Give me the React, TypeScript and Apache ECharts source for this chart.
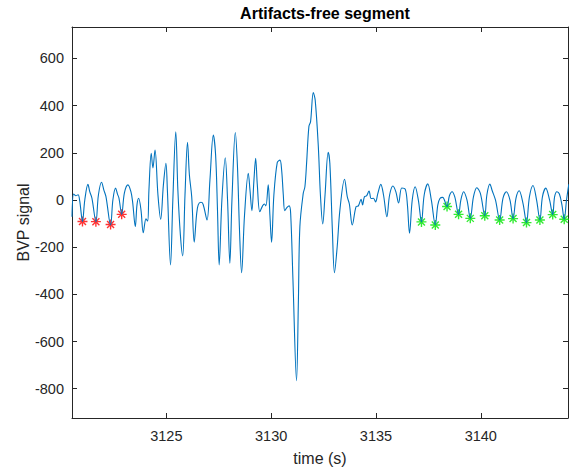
import React, { useEffect, useRef } from "react";
import * as echarts from "echarts";

const timeS = [
  3120.50, 3120.58, 3120.68, 3120.79, 3120.87, 3121.00, 3121.11, 3121.26, 3121.35, 3121.45,
  3121.64, 3121.76, 3121.91, 3122.02, 3122.12, 3122.34, 3122.45, 3122.58, 3122.67, 3122.74,
  3122.87, 3123.00, 3123.17, 3123.31, 3123.39, 3123.52, 3123.60, 3123.68, 3123.79, 3123.90,
  3124.03, 3124.11, 3124.17, 3124.28, 3124.36, 3124.46, 3124.60, 3124.73, 3124.86, 3124.98,
  3125.05, 3125.20, 3125.31, 3125.45, 3125.55, 3125.67, 3125.78, 3125.89, 3126.01, 3126.10,
  3126.21, 3126.33, 3126.44, 3126.52, 3126.65, 3126.75, 3126.94, 3127.08, 3127.24, 3127.35,
  3127.44, 3127.52, 3127.65, 3127.81, 3127.92, 3128.03, 3128.13, 3128.29, 3128.39, 3128.49,
  3128.59, 3128.73, 3128.91, 3128.99, 3129.08, 3129.18, 3129.26, 3129.34, 3129.46, 3129.59,
  3129.68, 3129.75, 3129.86, 3129.94, 3130.02, 3130.13, 3130.29, 3130.42, 3130.50, 3130.58,
  3130.65, 3130.76, 3130.86, 3130.93, 3131.04, 3131.21, 3131.30, 3131.37, 3131.53, 3131.61,
  3131.69, 3131.80, 3131.88, 3132.01, 3132.10, 3132.25, 3132.35, 3132.46, 3132.57, 3132.72,
  3132.80, 3132.92, 3133.02, 3133.15, 3133.28, 3133.50, 3133.63, 3133.73, 3133.87, 3134.05,
  3134.16, 3134.29, 3134.36, 3134.45, 3134.55, 3134.67, 3134.77, 3134.88, 3134.98, 3135.09,
  3135.23, 3135.36, 3135.52, 3135.65, 3135.81, 3135.95, 3136.08, 3136.23, 3136.40, 3136.50,
  3136.60, 3136.73, 3136.87, 3137.02, 3137.17, 3137.30, 3137.47, 3137.64, 3137.83, 3137.95,
  3138.05, 3138.18, 3138.39, 3138.50, 3138.63, 3138.76, 3138.94, 3139.05, 3139.18, 3139.34,
  3139.50, 3139.65, 3139.81, 3139.98, 3140.19, 3140.29, 3140.43, 3140.55, 3140.70, 3140.90,
  3141.06, 3141.22, 3141.39, 3141.54, 3141.68, 3141.83, 3142.01, 3142.18, 3142.32, 3142.49,
  3142.66, 3142.82, 3142.94, 3143.10, 3143.28, 3143.43, 3143.52, 3143.63, 3143.75, 3143.87,
  3143.98, 3144.09, 3144.20,
];

const bvpSignal = [
  -71, 25, 18, 22, -5, -91, 0, 66, 34, 8,
  -92, 21, 75, 42, 14, -106, 0, 50, 25, 8,
  -61, 30, 64, 35, -7, -113, -21, 7, -42, -139,
  -80, -89, 42, 198, 136, 212, 21, -82, 64, 155,
  42, -275, 0, 289, 42, -148, -237, 21, 244, 106,
  14, -179, -64, -21, -10, -17, -85, 85, 275, 191,
  -42, -275, 0, 179, 0, -268, 0, 286, 148, -127,
  -308, -64, 113, 42, -45, 85, 177, 64, -50, -25,
  -17, -25, 64, -64, -179, 21, 158, 169, 127, 21,
  -45, -31, -25, -56, -339, -766, -424, -113, 28, 56,
  155, 311, 332, 455, 424, 226, 21, -102, 21, 202,
  155, -127, -308, -198, -42, 88, 14, -17, -106, -28,
  -25, 3, -21, 14, 17, 38, 6, 7, -8, 28,
  66, 21, -71, 21, 59, 34, -13, 51, 45, -21,
  -141, 0, 56, 0, -93, 21, 68, 0, -106, -21,
  6, 11, -28, 17, 35, 13, -61, 0, 35, 0,
  -78, 13, 52, 28, -67, 21, 67, 38, 0, -85,
  8, 35, 0, -79, 8, 39, -13, -96, 13, 61,
  0, -85, 13, 50, 0, -62, 13, 35, 25, -21,
  -82, 0, 67,
];

const redPeakTimes = [3121.0, 3121.64, 3122.34, 3122.87];
const redPeakValues = [-91, -92, -104, -61];

const greenPeakTimes = [
  3137.17, 3137.83, 3138.39, 3138.94, 3139.5, 3140.19, 3140.9, 3141.54, 3142.18, 3142.82,
  3143.43, 3143.98,
];
const greenPeakValues = [-93, -106, -28, -61, -78, -67, -85, -79, -96, -85, -62, -82];

const xTicks = [3125, 3130, 3135, 3140];
const yTicks = [-800, -600, -400, -200, 0, 200, 400, 600];

const X_MIN = 3120.5;
const X_MAX = 3144.16;
const Y_MIN = -924;
const Y_MAX = 733;

const FONT = "'Liberation Sans', Arial, Helvetica, sans-serif";
const AXIS_COLOR = "#262626";
const STAR = "path://M5,0 L5,10 M0,5 L10,5 M1.5,1.5 L8.5,8.5 M1.5,8.5 L8.5,1.5";

export default function App() {
  const ref = useRef<HTMLDivElement>(null);

  useEffect(() => {
    if (!ref.current) return;
    const chart = echarts.init(ref.current, undefined, { renderer: "svg" });

    const lineData = timeS.map((t, i) => [t, bvpSignal[i]]);
    const redData = redPeakTimes.map((t, i) => [t, redPeakValues[i]]);
    const greenData = greenPeakTimes.map((t, i) => [t, greenPeakValues[i]]);

    const axisCommon = {
      type: "value" as const,
      axisLine: { show: true, onZero: false, lineStyle: { color: AXIS_COLOR, width: 1 } },
      splitLine: { show: false },
    };

    chart.setOption({
      animation: false,
      backgroundColor: "#ffffff",
      title: {
        text: "Artifacts-free segment",
        left: 320,
        textAlign: "center",
        top: 0,
        textStyle: { fontFamily: FONT, fontSize: 16, fontWeight: "bold", color: "#000000" },
      },
      grid: { left: 72, right: 1, top: 27, bottom: 53, containLabel: false },
      xAxis: [
        {
          ...axisCommon,
          position: "bottom",
          min: X_MIN,
          max: X_MAX,
          name: "time (s)",
          nameLocation: "middle",
          nameGap: 32,
          nameTextStyle: { fontFamily: FONT, fontSize: 16, color: AXIS_COLOR },
          axisTick: { show: true, inside: true, length: 5, customValues: xTicks, lineStyle: { color: AXIS_COLOR } },
          axisLabel: {
            show: true,
            customValues: xTicks,
            margin: 10,
            fontFamily: FONT,
            fontSize: 14.5,
            color: AXIS_COLOR,
            formatter: (v: number) => String(Math.round(v)),
          },
        },
        {
          ...axisCommon,
          position: "top",
          min: X_MIN,
          max: X_MAX,
          axisTick: { show: true, inside: true, length: 5, customValues: xTicks, lineStyle: { color: AXIS_COLOR } },
          axisLabel: { show: false },
        },
      ],
      yAxis: [
        {
          ...axisCommon,
          position: "left",
          min: Y_MIN,
          max: Y_MAX,
          name: "BVP signal",
          nameLocation: "middle",
          nameGap: 41,
          nameMoveOverlap: false,
          nameTextStyle: { fontFamily: FONT, fontSize: 16, color: AXIS_COLOR },
          axisTick: { show: true, inside: true, length: 5, customValues: yTicks, lineStyle: { color: AXIS_COLOR } },
          axisLabel: {
            show: true,
            customValues: yTicks,
            margin: 8,
            fontFamily: FONT,
            fontSize: 14.5,
            color: AXIS_COLOR,
            formatter: (v: number) => String(Math.round(v)),
          },
        },
        {
          ...axisCommon,
          position: "right",
          min: Y_MIN,
          max: Y_MAX,
          axisTick: { show: true, inside: true, length: 5, customValues: yTicks, lineStyle: { color: AXIS_COLOR } },
          axisLabel: { show: false },
        },
      ],
      series: [
        {
          type: "line",
          xAxisIndex: 0,
          yAxisIndex: 0,
          data: lineData,
          showSymbol: false,
          symbol: "none",
          smooth: 0.35,
          clip: true,
          lineStyle: { color: "#0072BD", width: 1.1 },
        },
        {
          type: "scatter",
          xAxisIndex: 0,
          yAxisIndex: 0,
          data: redData,
          symbol: STAR,
          symbolSize: 10,
          itemStyle: { color: "#ff0000", borderColor: "#ff0000", borderWidth: 1.4 },
        },
        {
          type: "scatter",
          xAxisIndex: 0,
          yAxisIndex: 0,
          data: greenData,
          symbol: STAR,
          symbolSize: 10,
          itemStyle: { color: "#00ff00", borderColor: "#00e600", borderWidth: 1.4 },
        },
      ],
    });

    return () => chart.dispose();
  }, []);

  return (
    <div
      ref={ref}
      style={{ position: "fixed", left: 0, top: 0, width: 569, height: 471, background: "#fff" }}
    />
  );
}
